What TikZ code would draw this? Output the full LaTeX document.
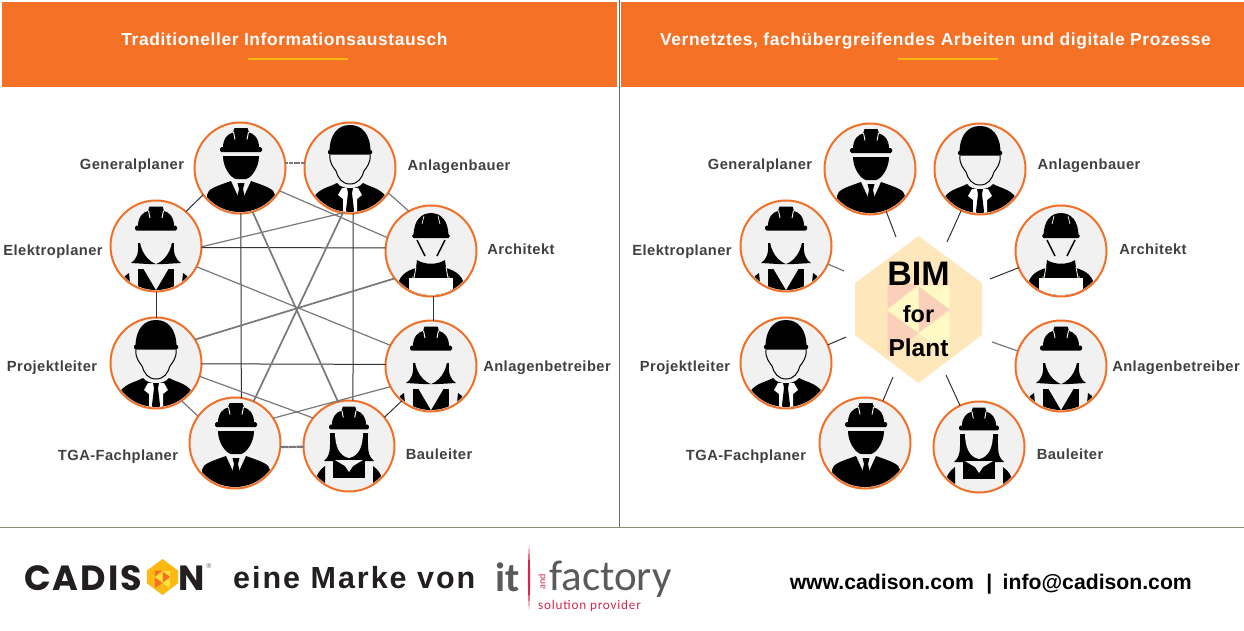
\documentclass[tikz,border=0pt]{standalone}
\usepackage{fontspec}
\usepackage{tikz}
\usetikzlibrary{positioning}
\setmainfont{Liberation Sans}
\newfontfamily\labelfont{Liberation Sans}[LetterSpace=3]
\newfontfamily\titlefont{Liberation Sans}[LetterSpace=3.5]
\newfontfamily\markefont{Liberation Sans}[LetterSpace=6.5]
\newfontfamily\logofont{Poppins}[LetterSpace=6]
\newfontfamily\factoryfont{Carlito}
\newfontfamily\solutionfont{Carlito}[LetterSpace=6]
\definecolor{BandOrange}{RGB}{245,113,38}
\definecolor{RingOrange}{RGB}{240,112,40}
\definecolor{RuleYellow}{RGB}{253,185,19}
\definecolor{FaceGray}{RGB}{241,241,241}
\definecolor{LabelGray}{RGB}{64,64,64}
\definecolor{LinkDark}{RGB}{50,50,50}
\definecolor{LinkGray}{RGB}{120,120,120}
\definecolor{PanelRule}{RGB}{110,110,105}
\definecolor{FootRule}{RGB}{140,140,120}
\definecolor{HexBase}{RGB}{253,231,187}
\definecolor{HexPink}{RGB}{250,208,186}
\definecolor{HexCream}{RGB}{255,250,196}
\definecolor{LogoRed}{RGB}{212,39,75}
\definecolor{LogoGray}{RGB}{90,90,92}
\definecolor{LogoBlack}{RGB}{35,31,32}
\definecolor{LogoYellow}{RGB}{255,225,60}
\newcommand{\hatridge}[2]{%
	\begin{scope}[shift={(#1)},scale=#2]
		\fill[black,rounded corners=1.5pt] (-21,-2.5) rectangle (21,2.5);
		\fill[black] (-18,-2) .. controls (-18,-11) and (-13,-16) .. (-8,-17) -- (-6.5,-21.5) -- (6.5,-21.5) -- (8,-17) .. controls (13,-16) and (18,-11) .. (18,-2) -- cycle;
		\draw[white,line width=.9pt] (-7.5,-17.5) -- (-6,-10) (7.5,-17.5) -- (6,-10);
	\end{scope}}
\newcommand{\hatsmooth}[2]{%
	\begin{scope}[shift={(#1)},scale=#2]
		\fill[black,rounded corners=1.5pt] (-22,-2.5) rectangle (22,2.5);
		\fill[black] (-20.5,0) .. controls (-20.5,-18) and (-12,-27) .. (0,-27) .. controls (12,-27) and (20.5,-18) .. (20.5,0) -- cycle;
	\end{scope}}
\tikzset{
	person/.style={circle,draw=RingOrange,fill=FaceGray,line width=2pt,minimum size=91pt,inner sep=0pt,outer sep=0pt},
	rolelabel/.style={text=LabelGray,font=\labelfont\bfseries\fontsize{14.7}{16}\selectfont,inner sep=0pt,text height=11pt,text depth=3pt},
	bandtitle/.style={anchor=base,text=white,font=\titlefont\bfseries\fontsize{17.4}{19}\selectfont,inner sep=0pt},
	band/.style={fill=BandOrange,draw=none},
	bandrule/.style={draw=RuleYellow,line width=1.2pt},
	linkdark/.style={draw=LinkDark,line width=1pt},
	linkgray/.style={draw=LinkGray,line width=1.2pt},
	linkthick/.style={draw=LinkGray,line width=1.7pt},
	linkwave/.style={draw=LinkGray,line width=2.2pt,dash pattern=on 1.4pt off .3pt},
	hubtext/.style={text=black,font=\bfseries,inner sep=0pt},
	pics/manblack/.style={code={
		\begin{scope}
			\clip (0,0) circle (44);
			\hatridge{1,-18.5}{1}
			\fill[black] (-17,-12) -- (19,-12) .. controls (19,0) and (11,10) .. (6,11) -- (-4,11) .. controls (-9,10) and (-17,0) .. (-17,-12) -- cycle;
			\fill[black] (-33,46) -- (-33,27) .. controls (-32,21) and (-26,19) .. (-9,13) -- (1,35) -- (11,13) .. controls (28,19) and (34,21) .. (35,27) -- (35,46) -- cycle;
			\fill[black] (-2.5,15) -- (4.5,15) -- (3,21) -- (5,30) -- (1,35) -- (-3,30) -- (-1,21) -- cycle;
		\end{scope}
	}},
	pics/mansuit/.style={code={
		\begin{scope}
			\clip (0,0) circle (44);
			\hatsmooth{0,-16}{1}
			\draw[black,line width=1pt] (-20,-13) .. controls (-21,-5) and (-16,0) .. (-14,3) .. controls (-12,10) and (-8,16) .. (0,16) .. controls (8,16) and (12,10) .. (14,3) .. controls (16,0) and (21,-5) .. (20,-13);
			\fill[black] (-39,34) .. controls (-33,20) and (-22,20) .. (-13,15) .. controls (-8,22) and (8,22) .. (13,15) .. controls (22,20) and (33,20) .. (39,34) -- (38,46) -- (-38,46) -- cycle;
			\fill[white] (-8,20) -- (8,20) -- (12,27) -- (7,31) -- (7,46) -- (-7,46) -- (-7,31) -- (-12,27) -- cycle;
			\fill[black] (-3,20) -- (3,20) -- (2,25) -- (4,42) -- (3,46) -- (-3,46) -- (-4,42) -- (-2,25) -- cycle;
		\end{scope}
	}},
	pics/worker/.style={code={
		\begin{scope}
			\clip (0,0) circle (44);
			\hatsmooth{0,-15}{.85}
			\draw[white,line width=.7pt] (-7,-35) -- (-9,-27) (7,-35) -- (9,-27);
			\draw[black,line width=1.4pt] (-14,-11) -- (-6,5) (14,-11) -- (6,5);
			\fill[black] (-34,38) .. controls (-33,26) and (-26,20) .. (-15,17) -- (-14,9) .. controls (-6,14) and (6,14) .. (14,9) -- (15,17) .. controls (26,20) and (33,26) .. (34,38) -- (34,46) -- (-34,46) -- cycle;
			\fill[white] (-22,27) rectangle (22,46);
			\draw[white,line width=.8pt] (-15,16) -- (-17,27) (15,16) -- (17,27);
			\fill[brown] (-18,26) circle (1) (18,26) circle (1);
		\end{scope}
	}},
	pics/womanvest/.style={code={
		\begin{scope}
			\clip (0,0) circle (44);
			\hatridge{0,-18}{1}
			\fill[black] (-18,-3) .. controls (-17,8) and (-20,14) .. (-25,17) -- (-8,18) -- (8,18) -- (25,17) .. controls (20,14) and (17,8) .. (18,-3) -- cycle;
			\fill[FaceGray] (-17,-14) .. controls (-8,-11) and (8,-16) .. (17,-14) .. controls (17,0) and (12,13) .. (0,18) .. controls (-12,13) and (-17,0) .. (-17,-14) -- cycle;
			\fill[black] (-18,23) -- (18,23) -- (18,46) -- (-18,46) -- cycle;
			\fill[FaceGray] (-13,22) -- (13,22) -- (0,44) -- cycle;
			\fill[black] (-31,30) -- (-27,27) -- (-26,37) -- (-33,37) -- cycle;
			\fill[black] (31,30) -- (27,27) -- (26,37) -- (33,37) -- cycle;
		\end{scope}
	}},
	pics/womanbib/.style={code={
		\begin{scope}
			\clip (0,0) circle (44);
			\hatridge{0,-19}{.95}
			\fill[black] (-19,-13) .. controls (-19,2) and (-18,9) .. (-25,15) -- (-10,15) -- (10,15) -- (25,15) .. controls (18,9) and (19,2) .. (19,-13) -- cycle;
			\fill[FaceGray] (-14,-14) -- (14,-14) .. controls (14,0) and (10,10) .. (0,12) .. controls (-10,10) and (-14,0) .. (-14,-14) -- cycle;
			\fill[black] (-16,14) rectangle (16,32);
			\fill[FaceGray] (-14,14) -- (14,14) -- (4,20) -- (0,26) -- (-4,20) -- cycle;
			\fill[black] (-24,20) .. controls (-30,24) and (-33,30) .. (-34,36) -- (-24,40) -- cycle;
			\fill[black] (24,20) .. controls (30,24) and (33,30) .. (34,36) -- (24,40) -- cycle;
		\end{scope}
	}},
	pics/hexmark/.style n args={3}{code={
		\fill[#1] (0,-73.5) -- (63.5,-26.5) -- (63.5,25.5) -- (0,73.5) -- (-63.5,25.5) -- (-63.5,-26.5) -- cycle;
		\fill[#2] (-31,-26) -- (0,-26) -- (-31,0) -- cycle;
		\fill[#3] (0,-24) -- (31,-24) -- (31,0) -- cycle;
		\fill[#2] (0,-23) -- (31,0) -- (0,23) -- cycle;
		\fill[#3] (-31,0) -- (0,-23) -- (0,23) -- cycle;
		\fill[#2] (-31,2) -- (0,24) -- (-31,45) -- cycle;
		\fill[#3] (31,2) -- (0,24) -- (31,45) -- cycle;
	}}
}
\begin{document}
\begin{tikzpicture}[x=1pt,y=-1pt]
	
	\useasboundingbox (0,0) rectangle (1244,630);
	
	\fill[band] (2,2) rectangle (617,87);
	\fill[band] (621,2) rectangle (1244,87);
	\node[bandtitle] (TitleL) at (284.5,45) {Traditioneller Informationsaustausch};
	\node[bandtitle] (TitleR) at (935.5,45) {Vernetztes, fachübergreifendes Arbeiten und digitale Prozesse};
	\draw[bandrule] (248,59) -- (348,59);
	\draw[bandrule] (898,59) -- (998,59);
	\draw[draw=PanelRule,line width=.9pt] (619,0) -- (619,527);
	\draw[draw=FootRule,line width=.9pt] (0,527) -- (1244,527);
	
	\node[person] (GenL) at (240,168) {};
	\node[person] (AnlL) at (350,168) {};
	\node[person] (ArcL) at (431,251) {};
	\node[person] (BetL) at (431,366) {};
	\node[person] (BauL) at (349,446) {};
	\node[person] (TgaL) at (235,443) {};
	\node[person] (ProL) at (156,363) {};
	\node[person] (EleL) at (156,246) {};
	
	\draw[linkwave] (GenL.6) -- (AnlL.174);
	\draw[linkdark] (GenL.216) -- (EleL.49);
	\draw[linkgray] (AnlL.327) -- (ArcL.119);
	\draw[linkdark] (ArcL.273) -- (BetL.87);
	\draw[linkdark] (BetL.230) -- (BauL.39);
	\draw[linkwave] (BauL.181) -- (TgaL.355);
	\draw[linkgray] (TgaL.144) -- (ProL.304);
	\draw[linkdark] (ProL.90) -- (EleL.270);
	\draw[linkdark] (GenL.271) -- (TgaL.82);
	\draw[linkdark] (AnlL.274) -- (BauL.85);
	\draw[linkdark] (EleL.358) -- (ArcL.176);
	\draw[linkdark] (ProL.359) -- (BetL.178);
	\draw[linkthick] (GenL.286) -- (BauL.104);
	\draw[linkthick] (AnlL.261) -- (TgaL.66);
	\draw[linkgray] (GenL.330) -- (ArcL.163);
	\draw[linkgray] (EleL.359) -- (AnlL.261);
	\draw[linkgray] (EleL.333) -- (BetL.153);
	\draw[linkthick] (ProL.31) -- (ArcL.217);
	\draw[linkgray] (ProL.343) -- (BauL.142);
	\draw[linkgray] (TgaL.33) -- (BetL.207);
	
	\pic at (GenL) {manblack};
	\pic at (AnlL) {mansuit};
	\pic at (ArcL) {worker};
	\pic at (BetL) {womanvest};
	\pic at (BauL) {womanbib};
	\pic at (TgaL) {manblack};
	\pic at (ProL) {mansuit};
	\pic at (EleL) {womanvest};
	
	\node[rolelabel] (LabGenL) at (132,165) {Generalplaner};
	\node[rolelabel] (LabAnlL) at (459,166) {Anlagenbauer};
	\node[rolelabel] (LabArcL) at (521,250) {Architekt};
	\node[rolelabel] (LabBetL) at (547,367) {Anlagenbetreiber};
	\node[rolelabel] (LabBauL) at (439,455) {Bauleiter};
	\node[rolelabel] (LabTgaL) at (118,456) {TGA-Fachplaner};
	\node[rolelabel] (LabProL) at (52,367) {Projektleiter};
	\node[rolelabel] (LabEleL) at (53,251) {Elektroplaner};
	
	\pic at (918.5,309.5) {hexmark={HexBase}{HexPink}{HexCream}};
	\node[hubtext,font=\bfseries\fontsize{34}{36}\selectfont] (HubA) at (918.5,274) {BIM};
	\node[hubtext,font=\bfseries\fontsize{23.5}{26}\selectfont] (HubB) at (918.5,314) {for};
	\node[hubtext,font=\bfseries\fontsize{24.5}{26}\selectfont] (HubC) at (918.5,348) {Plant};
	
	\node[person] (GenR) at (870,169) {};
	\node[person] (AnlR) at (980,169) {};
	\node[person] (ArcR) at (1061,251) {};
	\node[person] (BetR) at (1061,366) {};
	\node[person] (BauR) at (979,447) {};
	\node[person] (TgaR) at (865,443) {};
	\node[person] (ProR) at (786,363) {};
	\node[person] (EleR) at (786,246) {};
	
	\coordinate (HubGen) at (896,237);
	\coordinate (HubAnl) at (947,242);
	\coordinate (HubArc) at (990,279);
	\coordinate (HubBet) at (992,342);
	\coordinate (HubBau) at (946,375);
	\coordinate (HubTga) at (893,377);
	\coordinate (HubPro) at (846,337);
	\coordinate (HubEle) at (844,271);
	
	\draw[linkdark] (GenR) -- (HubGen);
	\draw[linkdark] (AnlR) -- (HubAnl);
	\draw[linkdark] (ArcR) -- (HubArc);
	\draw[linkgray] (BetR) -- (HubBet);
	\draw[linkdark] (BauR) -- (HubBau);
	\draw[linkdark] (TgaR) -- (HubTga);
	\draw[linkdark] (ProR) -- (HubPro);
	\draw[linkgray] (EleR) -- (HubEle);
	
	\pic at (GenR) {manblack};
	\pic at (AnlR) {mansuit};
	\pic at (ArcR) {worker};
	\pic at (BetR) {womanvest};
	\pic at (BauR) {womanbib};
	\pic at (TgaR) {manblack};
	\pic at (ProR) {mansuit};
	\pic at (EleR) {womanvest};
	
	\node[rolelabel] (LabGenR) at (760,165) {Generalplaner};
	\node[rolelabel] (LabAnlR) at (1089,165) {Anlagenbauer};
	\node[rolelabel] (LabArcR) at (1153,250) {Architekt};
	\node[rolelabel] (LabBetR) at (1176,367) {Anlagenbetreiber};
	\node[rolelabel] (LabBauR) at (1070,455) {Bauleiter};
	\node[rolelabel] (LabTgaR) at (746,456) {TGA-Fachplaner};
	\node[rolelabel] (LabProR) at (685,367) {Projektleiter};
	\node[rolelabel] (LabEleR) at (682,251) {Elektroplaner};
	
	\node[anchor=base west,inner sep=0pt,text=LogoBlack,font=\logofont\bfseries\fontsize{35}{37}\selectfont] (LogoA) at (24,590) {CADIS};
	\pic[scale=.245] at (162.5,577) {hexmark={RuleYellow}{BandOrange}{LogoYellow}};
	\node[anchor=base west,inner sep=0pt,text=LogoBlack,font=\logofont\bfseries\fontsize{35}{37}\selectfont] (LogoB) at (178,590) {N};
	\node[inner sep=0pt,text=LogoGray,font=\fontsize{7}{8}\selectfont] (LogoC) at (209,566) {®};
	\node[anchor=base west,inner sep=0pt,text=LogoBlack,font=\markefont\bfseries\fontsize{30.5}{32}\selectfont] (Marke) at (233,588) {eine Marke von};
	
	\node[anchor=base west,inner sep=0pt,text=LogoGray,font=\factoryfont\bfseries\fontsize{41}{44}\selectfont] (ItLogo) at (495,591) {it};
	\fill[LogoRed] (529,545) .. controls (527.5,570) and (527.5,585) .. (529,610) .. controls (530.5,585) and (530.5,570) .. (529,545) -- cycle;
	\node[rotate=90,inner sep=0pt,text=LogoRed,font=\factoryfont\fontsize{10}{11}\selectfont] (AndLogo) at (542,582) {and};
	\node[anchor=base west,inner sep=0pt,text=LogoGray,font=\factoryfont\fontsize{43}{46}\selectfont] (FactoryLogo) at (549,590) {factory};
	\node[anchor=base west,inner sep=0pt,text=LogoRed,font=\solutionfont\fontsize{13.2}{15}\selectfont] (SolutionLogo) at (538,609) {solution provider};
	
	\node[anchor=base east,inner sep=0pt,text=black,font=\bfseries\fontsize{21.2}{23}\selectfont] (WebLine) at (1192,589) {www.cadison.com\hspace{3pt}\, | \hspace{1pt}\,info@cadison.com};
	
\end{tikzpicture}
\end{document}
